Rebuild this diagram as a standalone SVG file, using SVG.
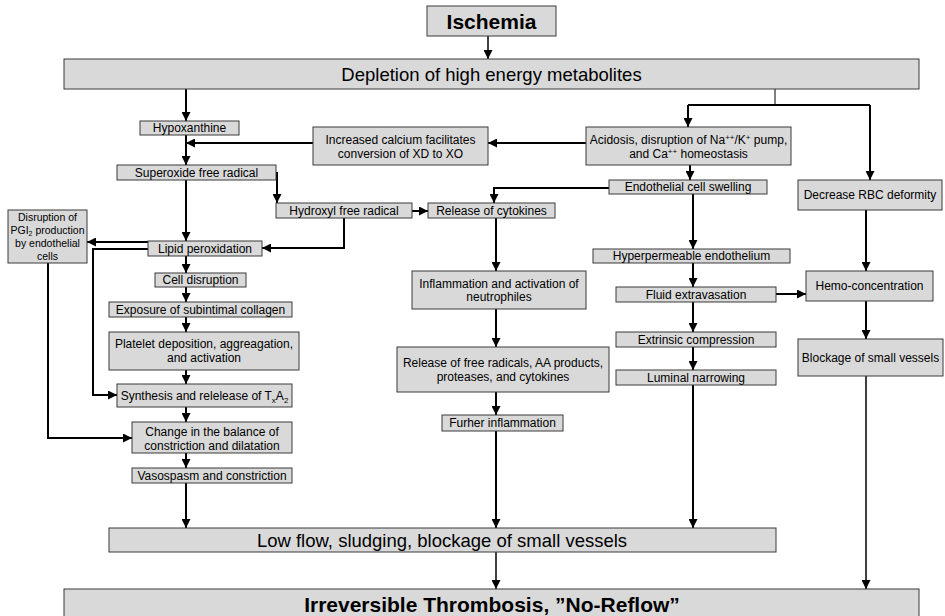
<svg xmlns="http://www.w3.org/2000/svg" width="945" height="616" viewBox="0 0 945 616">
<style>
.box{fill:#d9d9d9;stroke:#3a3a3a;stroke-width:1}
.t{font-family:"Liberation Sans",Arial,sans-serif;font-size:12px;text-anchor:middle;fill:#000}
.s{font-size:10.5px}
.big{font-size:18.5px}
.bold{font-size:21px;font-weight:bold}
.c{stroke:#000;stroke-width:2;fill:none;marker-end:url(#ah)}
.cl{stroke:#000;stroke-width:2;fill:none}
.thin{stroke-width:1.5}
</style>
<defs>
<marker id="ah" viewBox="0 0 10 10" refX="10" refY="5" markerWidth="9" markerHeight="9" markerUnits="userSpaceOnUse" orient="auto">
<path d="M0,0 L10,5 L0,10 z" fill="#000"/>
</marker>
</defs>
<rect width="945" height="616" fill="#fff"/>

<g id="connectors">
<path class="c thin" d="M488,36 V59"/>
<path class="c" d="M186,89 V121"/>
<path class="cl" style="stroke-width:1" d="M775,89 V105"/>
<path class="cl" d="M688,105 H870"/>
<path class="c" d="M688,105 V127"/>
<path class="c" d="M870,105 V180"/>
<path class="c" d="M586,143 H488"/>
<path class="c" d="M313,143 H186"/>
<path class="c" d="M186,135 V165"/>
<path class="c" d="M690,165 V180"/>
<path class="c" d="M609,188 H494 V203"/>
<path class="c" d="M277,172 V203"/>
<path class="c" d="M186,180 V241"/>
<path class="c" d="M412,211 H428"/>
<path class="c" d="M344,218 V248 H262"/>
<path class="c" d="M148,242 H87"/>
<path class="c" d="M148,249 H93 V395 H117"/>
<path class="c" d="M186,256 V273"/>
<path class="c" d="M186,287 V302"/>
<path class="c" d="M186,317 V332"/>
<path class="c" d="M186,370 V384"/>
<path class="c" d="M186,407 V422"/>
<path class="c" d="M186,453 V468"/>
<path class="c" d="M186,483 V528"/>
<path class="c" d="M48,263 V438 H132"/>
<path class="c" d="M496,218 V271"/>
<path class="c" d="M496,309 V347"/>
<path class="c" d="M496,392 V415"/>
<path class="c" d="M496,431 V528"/>
<path class="c" d="M693,194 V249"/>
<path class="c" d="M693,263 V287"/>
<path class="c" d="M693,302 V332"/>
<path class="c" d="M693,347 V370"/>
<path class="c" d="M693,385 V528"/>
<path class="c" d="M776,294 H806"/>
<path class="c" d="M866,210 V271"/>
<path class="c" d="M866,301 V339"/>
<path class="c thin" d="M866,376 V589"/>
<path class="c thin" d="M496,552 V589"/>
</g>

<g id="ischemia"><rect class="box" x="427" y="6" width="129" height="30"/><text class="t bold" x="491.5" y="28.5">Ischemia</text></g>
<g id="depletion"><rect class="box" x="64" y="59" width="855" height="30"/><text class="t big" x="491.5" y="81">Depletion of high energy metabolites</text></g>
<g id="hypoxanthine"><rect class="box" x="140" y="121" width="99" height="14"/><text class="t" x="189.5" y="132">Hypoxanthine</text></g>
<g id="calcium"><rect class="box" x="313" y="127" width="175" height="38"/><text class="t" x="400.5" y="144">Increased calcium facilitates</text><text class="t" x="400.5" y="158">conversion of XD to XO</text></g>
<g id="acidosis"><rect class="box" x="586" y="127" width="205" height="38"/><text class="t" x="688.5" y="144">Acidosis, disruption of Na<tspan font-size="8" dy="-4">++</tspan><tspan dy="4">/K</tspan><tspan font-size="8" dy="-4">+</tspan><tspan dy="4"> pump,</tspan></text><text class="t" x="688.5" y="158">and Ca<tspan font-size="8" dy="-4">++</tspan><tspan dy="4"> homeostasis</tspan></text></g>
<g id="superoxide"><rect class="box" x="117" y="165" width="159" height="15"/><text class="t" x="196.5" y="176.5">Superoxide free radical</text></g>
<g id="swelling"><rect class="box" x="609" y="180" width="158" height="14"/><text class="t" x="688" y="191">Endothelial cell swelling</text></g>
<g id="rbc"><rect class="box" x="798" y="180" width="144" height="30"/><text class="t" x="870" y="199">Decrease RBC deformity</text></g>
<g id="hydroxyl"><rect class="box" x="276" y="203" width="136" height="15"/><text class="t" x="344" y="215">Hydroxyl free radical</text></g>
<g id="cytokines"><rect class="box" x="428" y="203" width="127" height="15"/><text class="t" x="491.5" y="215">Release of cytokines</text></g>
<g id="pgi2"><rect class="box" x="8" y="210" width="79" height="53"/><text class="t s" x="47.5" y="221">Disruption of</text><text class="t s" x="47.5" y="234">PGI<tspan font-size="7" dy="2">2</tspan><tspan dy="-2"> production</tspan></text><text class="t s" x="47.5" y="247">by endothelial</text><text class="t s" x="47.5" y="260">cells</text></g>
<g id="lipid"><rect class="box" x="148" y="241" width="114" height="15"/><text class="t" x="205" y="253">Lipid peroxidation</text></g>
<g id="hyperpermeable"><rect class="box" x="593" y="249" width="197" height="14"/><text class="t" x="691.5" y="260">Hyperpermeable endothelium</text></g>
<g id="inflammation"><rect class="box" x="412" y="271" width="174" height="38"/><text class="t" x="499" y="288">Inflammation and activation of</text><text class="t" x="499" y="301">neutrophiles</text></g>
<g id="hemo"><rect class="box" x="806" y="271" width="127" height="30"/><text class="t" x="869.5" y="290">Hemo-concentration</text></g>
<g id="celldisruption"><rect class="box" x="155" y="273" width="91" height="14"/><text class="t" x="200.5" y="284">Cell disruption</text></g>
<g id="fluid"><rect class="box" x="616" y="287" width="160" height="15"/><text class="t" x="696" y="299">Fluid extravasation</text></g>
<g id="exposure"><rect class="box" x="109" y="302" width="183" height="15"/><text class="t" x="200.5" y="314">Exposure of subintimal collagen</text></g>
<g id="platelet"><rect class="box" x="109" y="332" width="190" height="38"/><text class="t" x="204" y="348">Platelet deposition, aggreagation,</text><text class="t" x="204" y="362">and activation</text></g>
<g id="extrinsic"><rect class="box" x="616" y="332" width="160" height="15"/><text class="t" x="696" y="344">Extrinsic compression</text></g>
<g id="blockage"><rect class="box" x="798" y="339" width="145" height="37"/><text class="t" x="870.5" y="362">Blockage of small vessels</text></g>
<g id="freeradicals"><rect class="box" x="397" y="347" width="212" height="45"/><text class="t" x="503" y="367">Release of free radicals, AA products,</text><text class="t" x="503" y="381">proteases, and cytokines</text></g>
<g id="luminal"><rect class="box" x="616" y="370" width="160" height="15"/><text class="t" x="696" y="382">Luminal narrowing</text></g>
<g id="synthesis"><rect class="box" x="117" y="384" width="175" height="23"/><text class="t" x="204.5" y="400">Synthesis and relelease of T<tspan font-size="8" dy="3">x</tspan><tspan dy="-3">A</tspan><tspan font-size="8" dy="3">2</tspan></text></g>
<g id="further"><rect class="box" x="442" y="415" width="121" height="16"/><text class="t" x="502.5" y="427">Furher inflammation</text></g>
<g id="change"><rect class="box" x="132" y="422" width="160" height="31"/><text class="t" x="212" y="436">Change in the balance of</text><text class="t" x="212" y="450">constriction and dilatation</text></g>
<g id="vasospasm"><rect class="box" x="132" y="468" width="160" height="15"/><text class="t" x="212" y="480">Vasospasm and constriction</text></g>
<g id="lowflow"><rect class="box" x="109" y="528" width="667" height="24"/><text class="t big" x="442" y="546.5">Low flow, sludging, blockage of small vessels</text></g>
<g id="irreversible"><rect class="box" x="64" y="589" width="855" height="35"/><text class="t bold" x="492" y="612">Irreversible Thrombosis, ”No-Reflow”</text></g>
</svg>
